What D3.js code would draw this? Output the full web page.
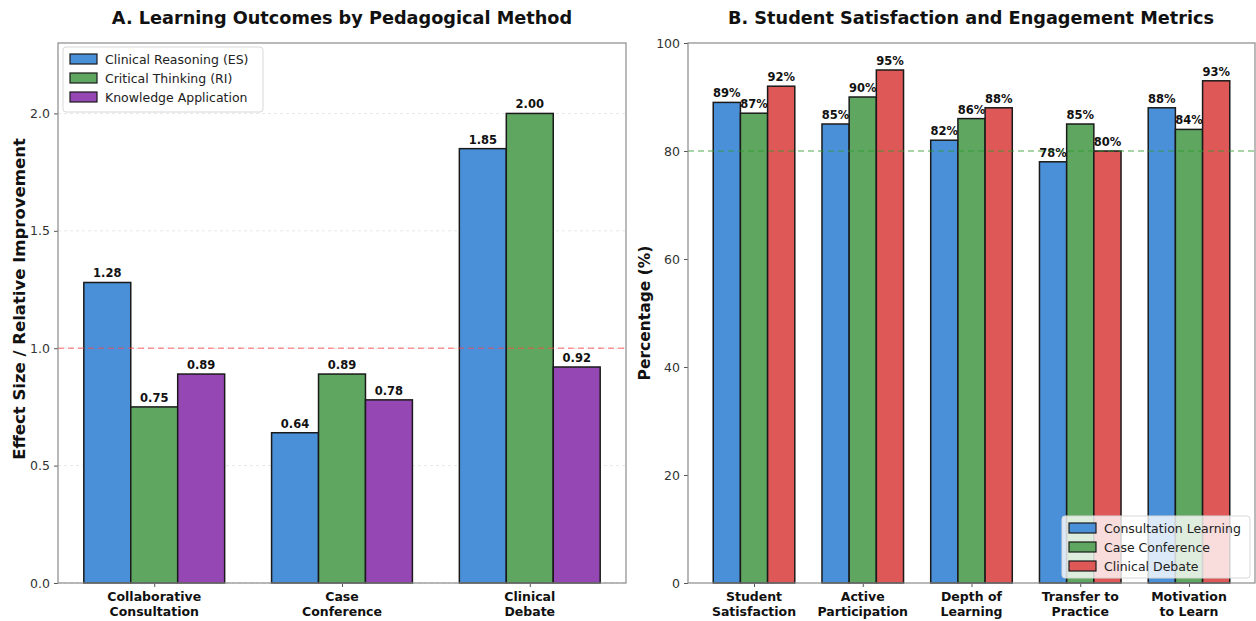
<!DOCTYPE html>
<html><head><meta charset="utf-8">
<script src="https://cdn.jsdelivr.net/npm/d3@7"></script>
<style>
body{margin:0;background:#fff;}
svg{display:block;font-family:"DejaVu Sans",sans-serif;}
</style></head>
<body><svg id="c" width="1256" height="621"></svg>
<script>
// Panel A data
const methodsA = ["Collaborative\nConsultation","Case\nConference","Clinical\nDebate"];
const seriesA = ["Clinical Reasoning (ES)","Critical Thinking (RI)","Knowledge Application"];
const clinicalReasoning = [1.28, 0.64, 1.85];
const criticalThinking = [0.75, 0.89, 2.00];
const knowledgeApplication = [0.89, 0.78, 0.92];
const ticksA = [0.0, 0.5, 1.0, 1.5, 2.0];

// Panel B data
const metricsB = ["Student\nSatisfaction","Active\nParticipation","Depth of\nLearning","Transfer to\nPractice","Motivation\nto Learn"];
const seriesB = ["Consultation Learning","Case Conference","Clinical Debate"];
const consultationLearning = [89, 85, 82, 78, 88];
const caseConference = [87, 90, 86, 85, 84];
const clinicalDebate = [92, 95, 88, 80, 93];
const ticksB = [0, 20, 40, 60, 80, 100];

const colBlue = "#4a90d9", colGreen = "#5fa661", colPurple = "#9548b4", colRed = "#de5858";
const svg = d3.select("#c");

function panel(opts){
  const g = svg.append("g");
  const {x0,x1,y0,y1,cats,series,values,colors,ymax,ticks,tickFmt,labFmt,ref,refColor,grid} = opts;
  const n = cats.length;
  const x = d3.scaleLinear().domain(opts.xdom).range([x0,x1]);
  const y = d3.scaleLinear().domain([0,ymax]).range([y1,y0]);
  const bw = 0.25;
  if(grid){
    g.append("g").selectAll("line").data(ticks).join("line")
      .attr("x1",x0).attr("x2",x1).attr("y1",d=>y(d)).attr("y2",d=>y(d))
      .attr("stroke","#cfcfcf").attr("stroke-width",0.8).attr("stroke-dasharray","3,3").attr("opacity",0.6);
  }
  series.forEach((s,si)=>{
    const off = (si-1)*bw;
    g.append("g").selectAll("rect").data(values[si]).join("rect")
      .attr("x",(d,i)=>x(i+off-bw/2)).attr("width",x(bw)-x(0))
      .attr("y",d=>y(d)).attr("height",d=>y(0)-y(d))
      .attr("fill",colors[si]).attr("stroke","#1a1a1a").attr("stroke-width",1.5);
    g.append("g").selectAll("text").data(values[si]).join("text")
      .attr("x",(d,i)=>x(i+off)).attr("y",d=>y(d)-5)
      .attr("text-anchor","middle").attr("font-size",11.5).attr("font-weight","bold").attr("fill","#111")
      .text(labFmt);
  });
  g.append("line").attr("x1",x0).attr("x2",x1).attr("y1",y(ref)).attr("y2",y(ref))
    .attr("stroke",refColor).attr("stroke-width",1.5).attr("stroke-dasharray","6,4").attr("opacity",0.55);
  const ya = g.append("g").attr("transform",`translate(${x0},0)`)
    .call(d3.axisLeft(y).tickValues(ticks).tickFormat(tickFmt).tickSize(4).tickPadding(4));
  ya.selectAll("text").attr("font-size",12.5).attr("fill","#333").attr("font-family","DejaVu Sans");
  ya.selectAll("line").attr("stroke","#555");
  ya.select(".domain").remove();
  const xa = g.append("g").attr("transform",`translate(0,${y1})`)
    .call(d3.axisBottom(x).tickValues(d3.range(n)).tickFormat("").tickSize(4));
  xa.selectAll("line").attr("stroke","#555");
  xa.select(".domain").remove();
  cats.forEach((c,i)=>{
    const t = g.append("text").attr("x",x(i)).attr("y",y1+18).attr("text-anchor","middle")
      .attr("font-size",12.5).attr("font-weight","bold").attr("fill","#111");
    c.split("\n").forEach((l,li)=>t.append("tspan").attr("x",x(i)).attr("dy",li?15:0).text(l));
  });
  g.append("rect").attr("x",x0).attr("y",y0).attr("width",x1-x0).attr("height",y1-y0)
    .attr("fill","none").attr("stroke","#8a8a8a").attr("stroke-width",1.2);
  return {g,x,y};
}

panel({x0:58,x1:626,y0:43,y1:583,cats:methodsA,series:seriesA,
  values:[clinicalReasoning,criticalThinking,knowledgeApplication],
  colors:[colBlue,colGreen,colPurple],ymax:2.3,ticks:ticksA,xdom:[-0.5125,2.5125],
  tickFmt:d3.format(".1f"),labFmt:d=>d.toFixed(2),ref:1.0,refColor:"#ff4444",grid:true});

panel({x0:688,x1:1255,y0:43,y1:583,cats:metricsB,series:seriesB,
  values:[consultationLearning,caseConference,clinicalDebate],
  colors:[colBlue,colGreen,colRed],ymax:100,ticks:ticksB,xdom:[-0.607,4.607],
  tickFmt:d3.format("d"),labFmt:d=>d+"%",ref:80,refColor:"#2e9a2e",grid:false});

svg.append("text").attr("x",342).attr("y",24).attr("text-anchor","middle")
  .attr("font-size",17.7).attr("font-weight","bold").attr("fill","#111").text("A. Learning Outcomes by Pedagogical Method");
svg.append("text").attr("x",971).attr("y",24).attr("text-anchor","middle")
  .attr("font-size",17.7).attr("font-weight","bold").attr("fill","#111").text("B. Student Satisfaction and Engagement Metrics");
svg.append("text").attr("transform","translate(25,299) rotate(-90)").attr("text-anchor","middle")
  .attr("font-size",16.5).attr("font-weight","bold").attr("fill","#111").text("Effect Size / Relative Improvement");
svg.append("text").attr("transform","translate(650,313) rotate(-90)").attr("text-anchor","middle")
  .attr("font-size",15.5).attr("font-weight","bold").attr("fill","#111").text("Percentage (%)");

function legend(x,y,w,h,items,colors,bgOpacity){
  const g = svg.append("g");
  g.append("rect").attr("x",x).attr("y",y).attr("width",w).attr("height",h).attr("rx",3)
    .attr("fill","#fff").attr("fill-opacity",bgOpacity).attr("stroke","#d8d8d8").attr("stroke-width",1);
  items.forEach((s,i)=>{
    const yy = y+12+i*19;
    g.append("rect").attr("x",x+7).attr("y",yy-5).attr("width",27).attr("height",10)
      .attr("fill",colors[i]).attr("stroke","#1a1a1a").attr("stroke-width",1.2);
    g.append("text").attr("x",x+42).attr("y",yy+4.5).attr("font-size",12.5).attr("fill","#222").text(s);
  });
}
legend(63,47,200,65,seriesA,[colBlue,colGreen,colPurple],0.85);
legend(1062,516,188,62,seriesB,[colBlue,colGreen,colRed],0.8);
</script></body></html>
